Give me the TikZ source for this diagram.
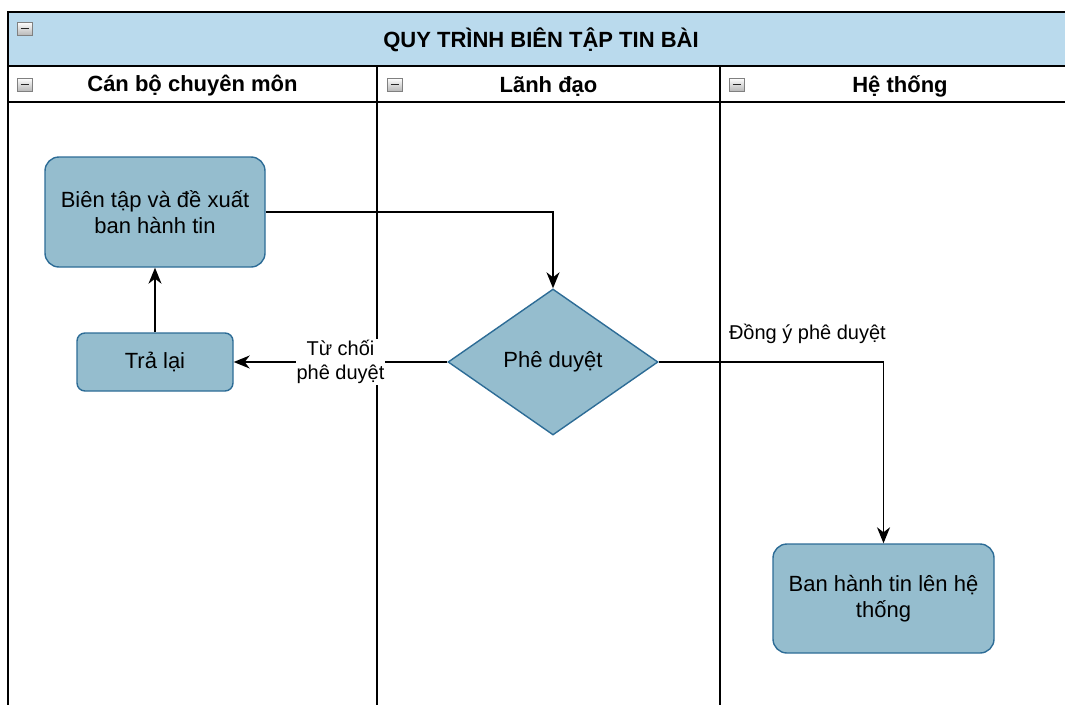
\documentclass[tikz,border=0pt]{standalone}
\usepackage{fontspec}
\setmainfont{Liberation Sans}
\usetikzlibrary{arrows.meta,shapes.geometric}

\definecolor{poolblue}{RGB}{186,218,237}
\definecolor{boxfill}{RGB}{149,189,206}
\definecolor{boxline}{RGB}{45,108,150}

\begin{document}
\begin{tikzpicture}[x=1pt,y=-1pt,line width=1.4pt,
                    >={Stealth[length=16pt,width=13pt,inset=5pt]}]

  \tikzstyle{task}=[rectangle,rounded corners=14pt,draw=boxline,fill=boxfill,
                    align=center,font=\fontsize{22}{26.5}\selectfont]
  \tikzstyle{decision}=[diamond,draw=boxline,fill=boxfill,inner sep=0pt,
                        minimum width=210pt,minimum height=146pt,
                        font=\fontsize{22}{26.5}\selectfont]
  \tikzstyle{lanehead}=[font=\bfseries\fontsize{22}{26}\selectfont]
  \tikzstyle{flowlabel}=[align=center,font=\fontsize{20}{24}\selectfont]
  \tikzstyle{flow}=[->,black]

  \useasboundingbox (0,0) rectangle (1065,704);
  \clip (0,0) rectangle (1065,704);

  % pool and lanes
  \draw[fill=poolblue] (8,12) rectangle (1080,66);
  \draw (8,66) rectangle (1080,102);
  \draw (8,66) -- (8,710);
  \draw (377,66) -- (377,710);
  \draw (720,66) -- (720,710);

  % collapse buttons
  \foreach \x/\y in {17/22,17/78,387/78,729/78} {
    \draw[gray,line width=0.7pt,top color=white,bottom color=gray!55]
      (\x,\y) rectangle ++(15,13);
    \draw[black!85,line width=1.5pt] (\x+3.5,\y+6.5) -- ++(8,0);
  }

  \node[lanehead] (title) at (541,40)    {QUY TRÌNH BIÊN TẬP TIN BÀI};
  \node[lanehead] (lane1) at (192.5,86)  {Cán bộ chuyên môn};
  \node[lanehead] (lane2) at (548.5,86)  {Lãnh đạo};
  \node[lanehead] (lane3) at (900,86)    {Hệ thống};

  \node[task,minimum width=220pt,minimum height=110pt] (edit) at (155,212)
       {Biên tập và đề xuất\\ban hành tin};
  \node[task,minimum width=156pt,minimum height=58pt,rounded corners=8pt]
       (back) at (155,362) {Trả lại};
  \node[decision] (approve) at (553,362) {Phê duyệt};
  \node[task,minimum width=221pt,minimum height=109pt] (publish) at (883.5,598.5)
       {Ban hành tin lên hệ\\thống};

  \draw[flow] (edit.east) -| (approve.north);
  \draw[flow] (back.north) -- (edit.south);
  \draw[flow] (approve.west) -- node[flowlabel,fill=white,inner sep=1pt] (reject)
       {Từ chối\\phê duyệt} (back.east);
  \draw[flow] (approve.east) -| (publish.north);
  \node[flowlabel,anchor=west] (agree) at (725,334) {Đồng ý phê duyệt};
\end{tikzpicture}
\end{document}
